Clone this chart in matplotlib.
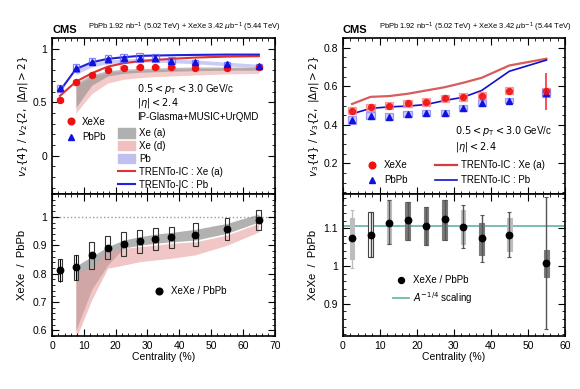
import numpy as np
import matplotlib
matplotlib.use("Agg")
import matplotlib.pyplot as plt
from matplotlib.patches import Rectangle, Patch
from matplotlib.lines import Line2D
from matplotlib.ticker import MultipleLocator

# ---------------- data: left (v2{4}/v2{2}) ----------------
cent_l = [2.5, 7.5, 12.5, 17.5, 22.5, 27.5, 32.5, 37.5, 45, 55, 65]
xexe_v2 = [0.519, 0.686, 0.758, 0.805, 0.824, 0.827, 0.827, 0.827, 0.824, 0.818, 0.827]
xexe_v2_sys = [0.02, 0.025, 0.02, 0.015, 0.015, 0.015, 0.015, 0.015, 0.015, 0.015, 0.015]
pbpb_v2 = [0.629, 0.821, 0.880, 0.903, 0.912, 0.918, 0.912, 0.890, 0.874, 0.860, 0.835]
pbpb_v2_sys = [0.03, 0.04, 0.035, 0.035, 0.04, 0.04, 0.035, 0.03, 0.025, 0.02, 0.02]

model_cent = [2.5, 7.5, 12.5, 17.5, 22.5, 27.5, 32.5, 37.5, 45, 55, 65]
trento_xe_v2 = [0.56, 0.692, 0.771, 0.833, 0.865, 0.884, 0.896, 0.906, 0.918, 0.927, 0.931]
trento_pb_v2 = [0.607, 0.811, 0.874, 0.906, 0.921, 0.934, 0.937, 0.940, 0.943, 0.946, 0.946]

band_cent = [7.5, 12.5, 17.5, 22.5, 27.5, 32.5, 37.5, 45, 55, 65]
xea_lo = [0.45, 0.66, 0.745, 0.77, 0.78, 0.785, 0.79, 0.795, 0.80, 0.80]
xea_hi = [0.68, 0.76, 0.795, 0.81, 0.815, 0.82, 0.825, 0.83, 0.83, 0.83]
xed_lo = [0.40, 0.58, 0.68, 0.715, 0.73, 0.74, 0.745, 0.755, 0.765, 0.77]
xed_hi = [0.66, 0.74, 0.78, 0.795, 0.80, 0.805, 0.81, 0.815, 0.82, 0.825]
pb_lo = [0.76, 0.83, 0.86, 0.87, 0.875, 0.875, 0.87, 0.86, 0.84, 0.825]
pb_hi = [0.82, 0.87, 0.895, 0.905, 0.91, 0.91, 0.905, 0.895, 0.875, 0.855]

ratio_l = [0.812, 0.822, 0.865, 0.891, 0.904, 0.914, 0.921, 0.928, 0.937, 0.956, 0.990]
ratio_l_sys = [0.038, 0.043, 0.047, 0.040, 0.041, 0.041, 0.039, 0.037, 0.040, 0.039, 0.035]
ratio_l_stat = [0.04, 0.045, 0.01, 0.01, 0.01, 0.01, 0.01, 0.01, 0.01, 0.01, 0.01]

rband_a_lo = [0.60, 0.745, 0.83, 0.89, 0.90, 0.907, 0.912, 0.918, 0.942, 0.982]
rband_a_hi = [0.827, 0.86, 0.895, 0.918, 0.93, 0.939, 0.945, 0.956, 0.977, 1.01]
rband_d_lo = [0.57, 0.708, 0.819, 0.83, 0.842, 0.848, 0.854, 0.866, 0.90, 0.947]
rband_d_hi = [0.80, 0.825, 0.877, 0.889, 0.895, 0.90, 0.907, 0.912, 0.936, 0.977]

# ---------------- data: right (v3{4}/v3{2}) ----------------
cent_r = [2.5, 7.5, 12.5, 17.5, 22.5, 27.5, 32.5, 37.5, 45, 55]
xexe_v3 = [0.474, 0.490, 0.500, 0.511, 0.517, 0.537, 0.545, 0.552, 0.578, 0.573]
xexe_v3_sys = [0.02, 0.02, 0.02, 0.02, 0.02, 0.02, 0.02, 0.02, 0.02, 0.02]
xexe_v3_stat = [0.01, 0.01, 0.01, 0.01, 0.01, 0.01, 0.01, 0.01, 0.01, 0.097]
pbpb_v3 = [0.424, 0.448, 0.443, 0.454, 0.462, 0.462, 0.486, 0.512, 0.526, 0.566]
pbpb_v3_sys = [0.02, 0.02, 0.02, 0.015, 0.015, 0.015, 0.015, 0.015, 0.015, 0.02]

trento_cent_r = [2.5, 7.5, 12.5, 17.5, 22.5, 27.5, 32.5, 37.5, 45, 55]
trento_xe_v3 = [0.508, 0.545, 0.549, 0.561, 0.578, 0.595, 0.618, 0.644, 0.708, 0.743]
trento_pb_v3 = [0.457, 0.485, 0.493, 0.497, 0.505, 0.526, 0.543, 0.578, 0.678, 0.736]

ratio_r = [1.073, 1.083, 1.113, 1.121, 1.107, 1.124, 1.103, 1.073, 1.083, 1.007]
ratio_r_sys_lo = [1.018, 1.024, 1.058, 1.069, 1.056, 1.070, 1.058, 1.030, 1.040, 0.972]
ratio_r_sys_hi = [1.126, 1.144, 1.174, 1.170, 1.156, 1.174, 1.147, 1.115, 1.126, 1.042]
ratio_r_stat_lo = [0.995, 1.024, 1.058, 1.069, 1.056, 1.070, 1.047, 1.012, 1.024, 0.834]
ratio_r_stat_hi = [1.147, 1.144, 1.174, 1.170, 1.156, 1.174, 1.160, 1.134, 1.143, 1.182]
a_scaling = 1.106

# ---------------- figure ----------------
plt.rcParams['font.family'] = ['Liberation Sans', 'DejaVu Sans']
plt.rcParams['mathtext.fontset'] = 'dejavusans'
fig = plt.figure(figsize=(5.8, 3.89), dpi=100)
axTL = fig.add_axes([0.0897, 0.501, 0.384, 0.401])
axBL = fig.add_axes([0.0897, 0.136, 0.384, 0.365])
axTR = fig.add_axes([0.591, 0.501, 0.383, 0.401])
axBR = fig.add_axes([0.591, 0.136, 0.383, 0.365])

RED = '#ee1111'
BLUE = '#1111dd'
MS = 4.3
for ax in (axTL, axBL, axTR, axBR):
    ax.tick_params(which='both', direction='in', top=True, right=True, labelsize=7.5)
    ax.tick_params(which='major', length=5, width=0.8)
    ax.tick_params(which='minor', length=2.5, width=0.6)
    for s in ax.spines.values():
        s.set_linewidth(1.2)

def boxes(ax, xs, ys, lo, hi, hw, ec, fc='none', lw=0.8, alpha=1.0, z=3):
    for x, y, l, h in zip(xs, ys, lo, hi):
        ax.add_patch(Rectangle((x - hw, l), 2 * hw, h - l, facecolor=fc,
                               edgecolor=ec, lw=lw, alpha=alpha, zorder=z))

# ---- top left ----
ax = axTL
ax.fill_between(band_cent, xed_lo, xed_hi, color='#e8a0a0', alpha=0.55, lw=0, zorder=1)
ax.fill_between(band_cent, xea_lo, xea_hi, color='#888888', alpha=0.55, lw=0, zorder=1)
ax.fill_between(band_cent, pb_lo, pb_hi, color='#9999ee', alpha=0.5, lw=0, zorder=1)
ax.plot(model_cent, trento_xe_v2, color='#e03030', lw=1.5, zorder=2)
ax.plot(model_cent, trento_pb_v2, color='#2020dd', lw=1.5, zorder=2)
boxes(ax, cent_l, xexe_v2, np.subtract(xexe_v2, xexe_v2_sys), np.add(xexe_v2, xexe_v2_sys),
      1.0, '#ff6666', lw=0.9, alpha=0.8)
boxes(ax, cent_l, pbpb_v2, np.subtract(pbpb_v2, pbpb_v2_sys), np.add(pbpb_v2, pbpb_v2_sys),
      1.0, '#6666ff', lw=0.9, alpha=0.8)
ax.plot(cent_l, xexe_v2, 'o', color=RED, ms=MS, zorder=5)
ax.plot(cent_l, pbpb_v2, '^', color=BLUE, ms=MS, zorder=5)
ax.set_xlim(0, 70)
ax.set_ylim(-0.36, 1.1)
ax.xaxis.set_major_locator(MultipleLocator(10))
ax.xaxis.set_minor_locator(MultipleLocator(2))
ax.yaxis.set_major_locator(MultipleLocator(0.5))
ax.yaxis.set_minor_locator(MultipleLocator(0.1))
ax.set_yticks([0, 0.5, 1])
ax.set_yticklabels(['0', '0.5', '1'])
ax.tick_params(labelbottom=False)
ax.set_ylabel(r'$v_2\{4\}\ /\ v_2\{2,\ |\Delta\eta| > 2\}$', fontsize=7.5, labelpad=2)
ax.text(0.381, 0.673, r'$0.5 < p_{\mathrm{T}} < 3.0$ GeV/c', transform=ax.transAxes, fontsize=7, va='center')
ax.text(0.381, 0.583, r'$|\eta| < 2.4$', transform=ax.transAxes, fontsize=7, va='center')
ax.text(0.381, 0.494, 'IP-Glasma+MUSIC+UrQMD', transform=ax.transAxes, fontsize=7, va='center')
h1 = [Line2D([], [], ls='none', marker='o', color=RED, ms=MS + 0.5),
      Line2D([], [], ls='none', marker='^', color=BLUE, ms=MS + 0.5)]
lg1 = ax.legend(h1, ['XeXe', 'PbPb'], loc='upper left', bbox_to_anchor=(0.03, 0.54),
                frameon=False, fontsize=7, handlelength=1.2, handletextpad=0.5, labelspacing=0.55,
                borderpad=0.2)
ax.add_artist(lg1)
h2 = [Patch(color='#b0b0b0'), Patch(color='#f0c0c0'), Patch(color='#c0c0f0'),
      Line2D([], [], color='#e03030', lw=1.5), Line2D([], [], color='#2020dd', lw=1.5)]
ax.legend(h2, ['Xe (a)', 'Xe (d)', 'Pb', 'TRENTo-IC : Xe (a)', 'TRENTo-IC : Pb'],
          loc='upper left', bbox_to_anchor=(0.27, 0.46), frameon=False, fontsize=7,
          handlelength=1.8, handleheight=1.1, handletextpad=0.4, labelspacing=0.3, borderpad=0.1)

# ---- bottom left ----
ax = axBL
ax.axhline(1.0, color='#999999', ls=':', lw=1.0, zorder=1)
ax.fill_between(band_cent, rband_a_lo, rband_a_hi, color='#888888', alpha=0.65, lw=0, zorder=1)
ax.fill_between(band_cent, rband_d_lo, rband_d_hi, color='#e8a0a0', alpha=0.6, lw=0, zorder=1)
boxes(ax, cent_l, ratio_l, np.subtract(ratio_l, ratio_l_sys), np.add(ratio_l, ratio_l_sys),
      0.75, '#333333', lw=0.8)
ax.errorbar(cent_l, ratio_l, yerr=ratio_l_stat, fmt='o', color='black', ms=MS + 0.3, lw=0.8,
            capsize=0, zorder=5)
ax.set_xlim(0, 70)
ax.set_ylim(0.58, 1.08)
ax.xaxis.set_major_locator(MultipleLocator(10))
ax.xaxis.set_minor_locator(MultipleLocator(2))
ax.yaxis.set_major_locator(MultipleLocator(0.1))
ax.yaxis.set_minor_locator(MultipleLocator(0.02))
ax.set_yticks([0.6, 0.7, 0.8, 0.9, 1.0])
ax.set_yticklabels(['0.6', '0.7', '0.8', '0.9', '1'])
ax.set_ylabel('XeXe  /  PbPb', fontsize=8, labelpad=4)
ax.set_xlabel('Centrality (%)', fontsize=7.5, labelpad=1)
ax.legend([Line2D([], [], ls='none', marker='o', color='black', ms=MS + 0.5)], ['XeXe / PbPb'],
          loc='center left', bbox_to_anchor=(0.43, 0.317), frameon=False, fontsize=7,
          handlelength=1.2, handletextpad=0.6, borderpad=0.1)

# ---- top right ----
ax = axTR
ax.plot(trento_cent_r, trento_xe_v3, color='#d04040', lw=1.6, alpha=0.85, zorder=2)
ax.plot(trento_cent_r, trento_pb_v3, color='#1010cc', lw=1.2, zorder=2)
boxes(ax, cent_r, xexe_v3, np.subtract(xexe_v3, xexe_v3_sys), np.add(xexe_v3, xexe_v3_sys),
      1.1, '#ff7777', fc='#ffaaaa', lw=0.9, alpha=0.7)
boxes(ax, cent_r, pbpb_v3, np.subtract(pbpb_v3, pbpb_v3_sys), np.add(pbpb_v3, pbpb_v3_sys),
      1.1, '#7777ff', fc='#bbbbff', lw=0.9, alpha=0.7)
ax.errorbar(cent_r, xexe_v3, yerr=xexe_v3_stat, fmt='o', color=RED, ms=MS, lw=1.2, alpha=0.85,
            capsize=0, zorder=5)
ax.plot(cent_r, pbpb_v3, '^', color=BLUE, ms=MS, zorder=5)
ax.set_xlim(0, 60)
ax.set_ylim(0.04, 0.85)
ax.xaxis.set_major_locator(MultipleLocator(10))
ax.xaxis.set_minor_locator(MultipleLocator(2))
ax.yaxis.set_major_locator(MultipleLocator(0.2))
ax.yaxis.set_minor_locator(MultipleLocator(0.05))
ax.set_yticks([0.2, 0.4, 0.6, 0.8])
ax.tick_params(labelbottom=False)
ax.set_ylabel(r'$v_3\{4\}\ /\ v_3\{2,\ |\Delta\eta| > 2\}$', fontsize=7.5, labelpad=2)
ax.text(0.505, 0.404, r'$0.5 < p_{\mathrm{T}} < 3.0$ GeV/c', transform=ax.transAxes, fontsize=7, va='center')
ax.text(0.505, 0.30, r'$|\eta| < 2.4$', transform=ax.transAxes, fontsize=7, va='center')
h3 = [Line2D([], [], ls='none', marker='o', color=RED, ms=MS + 0.5),
      Line2D([], [], ls='none', marker='^', color=BLUE, ms=MS + 0.5)]
lg3 = ax.legend(h3, ['XeXe', 'PbPb'], loc='center left', bbox_to_anchor=(0.08, 0.137),
                frameon=False, fontsize=7, handlelength=1.2, handletextpad=0.6, labelspacing=0.55,
                borderpad=0.1)
ax.add_artist(lg3)
h4 = [Line2D([], [], color='#d04040', lw=1.6), Line2D([], [], color='#1010cc', lw=1.2)]
ax.legend(h4, ['TRENTo-IC : Xe (a)', 'TRENTo-IC : Pb'], loc='center left',
          bbox_to_anchor=(0.39, 0.137), frameon=False, fontsize=7, handlelength=2.2,
          handletextpad=0.4, labelspacing=0.55, borderpad=0.1)

# ---- bottom right ----
ax = axBR
ax.axhline(a_scaling, color='#6fb8b0', lw=1.3, zorder=1)
face_r = ['#bdbdbd', 'white', '#bdbdbd', '#7a7a7a', '#7a7a7a', '#7a7a7a', '#bdbdbd', '#7a7a7a', '#bdbdbd', '#7a7a7a']
edge_r = ['#bdbdbd', '#444444', '#bdbdbd', '#7a7a7a', '#7a7a7a', '#7a7a7a', '#bdbdbd', '#7a7a7a', '#bdbdbd', '#7a7a7a']
stat_c = ['#bdbdbd', '#444444', '#555555', '#555555', '#555555', '#555555', '#555555', '#555555', '#555555', '#555555']
for i in range(len(cent_r)):
    ax.add_patch(Rectangle((cent_r[i] - 0.6, ratio_r_sys_lo[i]), 1.2,
                           ratio_r_sys_hi[i] - ratio_r_sys_lo[i], facecolor=face_r[i],
                           edgecolor=edge_r[i], lw=0.8, zorder=2))
    ax.errorbar([cent_r[i]], [ratio_r[i]],
                yerr=[[ratio_r[i] - ratio_r_stat_lo[i]], [ratio_r_stat_hi[i] - ratio_r[i]]],
                fmt='none', ecolor=stat_c[i], lw=1.0, capsize=1.5, capthick=0.8, zorder=3)
ax.plot(cent_r, ratio_r, 'o', color='black', ms=MS + 0.3, zorder=5)
ax.set_xlim(0, 60)
ax.set_ylim(0.815, 1.19)
ax.xaxis.set_major_locator(MultipleLocator(10))
ax.xaxis.set_minor_locator(MultipleLocator(2))
ax.yaxis.set_major_locator(MultipleLocator(0.1))
ax.yaxis.set_minor_locator(MultipleLocator(0.02))
ax.set_yticks([0.9, 1.0, 1.1])
ax.set_yticklabels(['0.9', '1', '1.1'])
ax.set_ylabel('XeXe  /  PbPb', fontsize=8, labelpad=4)
ax.set_xlabel('Centrality (%)', fontsize=7.5, labelpad=1)
h5 = [Line2D([], [], ls='none', marker='o', color='black', ms=MS),
      Line2D([], [], color='#6fb8b0', lw=1.3)]
ax.legend(h5, ['XeXe / PbPb', r'$A^{-1/4}$ scaling'], loc='upper left',
          bbox_to_anchor=(0.2, 0.47), frameon=False, fontsize=7, handlelength=1.6,
          handletextpad=0.5, labelspacing=0.5, borderpad=0.1)

# ---- headers ----
for x0 in (0.0897, 0.591):
    fig.text(x0, 0.91, 'CMS', fontsize=8, fontweight='bold', va='bottom')
    fig.text(x0 + 0.062, 0.912, r'PbPb 1.92 nb$^{-1}$ (5.02 TeV) + XeXe 3.42 $\mu$b$^{-1}$ (5.44 TeV)',
             fontsize=5.4, va='bottom')

fig.savefig('out.png', dpi=100)
